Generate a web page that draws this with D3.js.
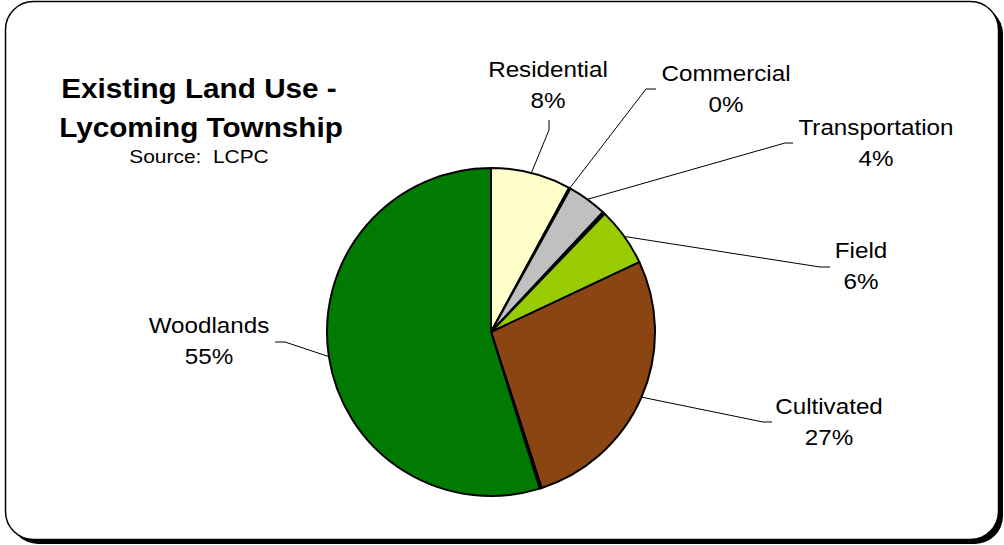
<!DOCTYPE html>
<html>
<head>
<meta charset="utf-8">
<script src="https://cdn.jsdelivr.net/npm/d3@7"></script>
<style>
  body { margin: 0; background: #fff; }
  text { font-family: "Liberation Sans", Arial, sans-serif; fill: #000; white-space: pre; }
</style>
</head>
<body>
<script>
// land use shares (percent), clockwise from 12 o'clock
var categories = ["Residential", "Commercial", "Transportation", "", "Field", "Cultivated", "", "Woodlands"];
var values = [7.9, 0.15, 3.9, 0.25, 5.8, 27.0, 0.2, 54.8];
var colors = ["#FFFFCC", "#000000", "#C0C0C0", "#000000", "#99CC00", "#8B4513", "#000000", "#007A00"];

var w = 1004, h = 545;
var cx = 491, cy = 332, radius = 164;
var stretch = 1.1;

// where each label sits: text centre, first baseline, leader elbow and end
var labelLayout = {
  "Residential":    {x: 548, y: 77,  elbow: [549, 130], end: [549, 120]},
  "Commercial":     {x: 726, y: 81,  elbow: [646, 89],  end: [656, 89]},
  "Transportation": {x: 876, y: 135, elbow: [785, 143], end: [793, 143]},
  "Field":          {x: 861, y: 258, elbow: [820, 267], end: [830, 267]},
  "Cultivated":     {x: 829, y: 414, elbow: [763, 422], end: [772, 422]},
  "Woodlands":      {x: 209, y: 333, elbow: [285, 342], end: [275, 342]}
};

var svg = d3.select("body").append("svg")
  .attr("width", w)
  .attr("height", h);

// frame with drop shadow
svg.append("rect")
  .attr("x", 10).attr("y", 6)
  .attr("width", 993).attr("height", 538)
  .attr("rx", 28).attr("ry", 28)
  .attr("fill", "#000");
svg.append("rect")
  .attr("x", 5.5).attr("y", 1.5)
  .attr("width", 993).attr("height", 538)
  .attr("rx", 28).attr("ry", 28)
  .attr("fill", "#fff")
  .attr("stroke", "#000")
  .attr("stroke-width", 1.5);

function stretchedText(x, y, str, size, weight) {
  svg.append("text")
    .attr("transform", "translate(" + x + "," + y + ") scale(" + stretch + ",1)")
    .attr("text-anchor", "middle")
    .style("font-size", size + "px")
    .style("font-weight", weight || "normal")
    .text(str);
}

// title
stretchedText(199, 98, "Existing Land Use -", 27, "bold");
stretchedText(201, 137, "Lycoming Township", 27, "bold");
stretchedText(199, 163, "Source:  LCPC", 19);

var data = categories.map(function(c, i) { return {name: c, value: values[i], color: colors[i]}; });

var pie = d3.pie().sort(null).value(function(d) { return d.value; });
var arc = d3.arc().innerRadius(0).outerRadius(radius);
var arcs = pie(data);

var g = svg.append("g").attr("transform", "translate(" + cx + "," + cy + ")");

g.selectAll("path")
  .data(arcs)
  .enter()
  .append("path")
  .attr("d", arc)
  .attr("fill", function(d) { return d.data.color; })
  .attr("stroke", "#000")
  .attr("stroke-width", 2)
  .attr("stroke-linejoin", "round");

// labels and leader lines
arcs.forEach(function(d) {
  var lay = labelLayout[d.data.name];
  if (!lay) return;
  var mid = (d.startAngle + d.endAngle) / 2;
  var sx = cx + radius * Math.sin(mid);
  var sy = cy - radius * Math.cos(mid);
  svg.append("polyline")
    .attr("points", [[sx, sy], lay.elbow, lay.end].map(function(p) { return p.join(","); }).join(" "))
    .attr("fill", "none")
    .attr("stroke", "#000")
    .attr("stroke-width", 1);
  stretchedText(lay.x, lay.y, d.data.name, 22);
  stretchedText(lay.x, lay.y + 31, Math.round(d.data.value) + "%", 22);
});
</script>
</body>
</html>
